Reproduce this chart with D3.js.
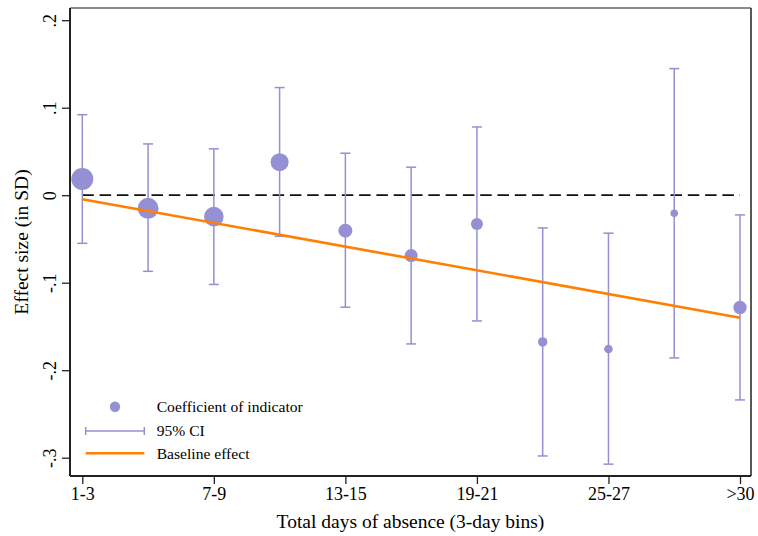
<!DOCTYPE html>
<html>
<head>
<meta charset="utf-8">
<script src="https://cdn.jsdelivr.net/npm/d3@7"></script>
<style>
  body { margin: 0; background: #fff; }
  text { font-family: "Liberation Serif", "Times New Roman", serif; fill: #000; }
</style>
</head>
<body>
<div id="chart"></div>
<script>
// absence bins (3 days each)
const bins = ['1-3', '4-6', '7-9', '10-12', '13-15', '16-18', '19-21', '22-24', '25-27', '28-30', '>30'];
const shownBins = ['1-3', '7-9', '13-15', '19-21', '25-27', '>30'];
const coef = [0.0186, -0.015, -0.0245, 0.0377, -0.0405, -0.069, -0.0328, -0.1677, -0.1757, -0.0206, -0.1284];
const ciLow = [-0.055, -0.087, -0.102, -0.047, -0.128, -0.170, -0.1437, -0.298, -0.3074, -0.186, -0.234];
const ciHigh = [0.092, 0.0586, 0.053, 0.123, 0.048, 0.032, 0.078, -0.0374, -0.0434, 0.1447, -0.0225];
// relative weight of each bin (marker area)
const binWeight = [121, 110, 96, 81, 49, 42, 36, 22, 18.5, 14.4, 45];
// baseline effect, first and last bin
const baseline = [-0.0046, -0.140];
const yTicks = [0.2, 0.1, 0, -0.1, -0.2, -0.3];
const yTickLabels = ['.2', '.1', '0', '-.1', '-.2', '-.3'];

const W = 758, H = 536;
const mLeft = 70, mRight = 751, mTop = 8, mBottom = 476;
const purple = '#9590d3', orange = '#ff7f00';

const svg = d3.select('#chart').append('svg')
  .attr('width', W)
  .attr('height', H);

const x = d3.scalePoint().domain(bins).range([82.3, 740]);
const y = d3.scaleLinear().domain([-0.3, 0.2]).range([457.7, 20.2]);
const r = d3.scaleSqrt().domain([0, 121]).range([0, 11]);

// frame
svg.append('line').attr('x1', mLeft).attr('x2', mRight).attr('y1', mTop).attr('y2', mTop)
  .attr('stroke', '#666').attr('stroke-width', 1.5);
svg.append('line').attr('x1', mRight).attr('x2', mRight).attr('y1', mTop).attr('y2', mBottom)
  .attr('stroke', '#222').attr('stroke-width', 1.5);

// y axis
const yAxis = svg.append('g').attr('transform', `translate(${mLeft},0)`)
  .call(d3.axisLeft(y).tickValues(yTicks).tickSize(8).tickFormat((d, i) => yTickLabels[i]));
yAxis.select('.domain').attr('d', `M0,${mTop}V${mBottom}`).attr('stroke', '#222').attr('stroke-width', 2);
yAxis.selectAll('.tick line').attr('stroke', '#222').attr('stroke-width', 1.3);
yAxis.selectAll('.tick text')
  .attr('x', null).attr('dy', null)
  .attr('transform', 'translate(-14,0) rotate(-90)')
  .attr('text-anchor', 'middle')
  .style('font-family', '"Liberation Serif", serif')
  .style('font-size', '18px');

// x axis
const xAxis = svg.append('g').attr('transform', `translate(0,${mBottom})`)
  .call(d3.axisBottom(x).tickValues(shownBins).tickSize(8));
xAxis.select('.domain').attr('d', `M${mLeft},0H${mRight}`).attr('stroke', '#222').attr('stroke-width', 2);
xAxis.selectAll('.tick line').attr('stroke', '#222').attr('stroke-width', 1.3);
xAxis.selectAll('.tick text')
  .attr('y', 24).attr('dy', null)
  .style('font-family', '"Liberation Serif", serif')
  .style('font-size', '18px');

// axis titles
svg.append('text')
  .attr('x', (mLeft + mRight) / 2)
  .attr('y', 528)
  .attr('text-anchor', 'middle')
  .style('font-size', '19.5px')
  .text('Total days of absence (3-day bins)');
svg.append('text')
  .attr('transform', `translate(28,${(mTop + mBottom) / 2}) rotate(-90)`)
  .attr('text-anchor', 'middle')
  .style('font-size', '19.5px')
  .text('Effect size (in SD)');

// zero reference line
svg.append('line')
  .attr('x1', x(bins[0])).attr('x2', x(bins[bins.length - 1]))
  .attr('y1', y(0)).attr('y2', y(0))
  .attr('stroke', '#111').attr('stroke-width', 1.7)
  .attr('stroke-dasharray', '11.5,5.8');

// confidence intervals
const data = bins.map((b, i) => ({bin: b, coef: coef[i], lo: ciLow[i], hi: ciHigh[i], w: binWeight[i]}));
const ci = svg.append('g').attr('stroke', purple).attr('stroke-width', 1.5);
ci.selectAll('.stem').data(data).enter().append('line')
  .attr('x1', d => x(d.bin)).attr('x2', d => x(d.bin))
  .attr('y1', d => y(d.lo)).attr('y2', d => y(d.hi));
ci.selectAll('.capHi').data(data).enter().append('line')
  .attr('x1', d => x(d.bin) - 5).attr('x2', d => x(d.bin) + 5)
  .attr('y1', d => y(d.hi)).attr('y2', d => y(d.hi));
ci.selectAll('.capLo').data(data).enter().append('line')
  .attr('x1', d => x(d.bin) - 5).attr('x2', d => x(d.bin) + 5)
  .attr('y1', d => y(d.lo)).attr('y2', d => y(d.lo));

// coefficients
svg.selectAll('circle.pt').data(data).enter().append('circle')
  .attr('class', 'pt')
  .attr('cx', d => x(d.bin))
  .attr('cy', d => y(d.coef))
  .attr('r', d => r(d.w))
  .attr('fill', purple);

// baseline effect
svg.append('line')
  .attr('x1', x(bins[0])).attr('x2', x(bins[bins.length - 1]))
  .attr('y1', y(baseline[0])).attr('y2', y(baseline[1]))
  .attr('stroke', orange).attr('stroke-width', 2.6);

// legend
const lg = svg.append('g');
lg.append('circle').attr('cx', 115).attr('cy', 406.7).attr('r', 5.2).attr('fill', purple);
lg.append('line').attr('x1', 85.7).attr('x2', 144.3).attr('y1', 431).attr('y2', 431)
  .attr('stroke', purple).attr('stroke-width', 1.5);
[85.7, 144.3].forEach(px => {
  lg.append('line').attr('x1', px).attr('x2', px).attr('y1', 427).attr('y2', 435)
    .attr('stroke', purple).attr('stroke-width', 1.5);
});
lg.append('line').attr('x1', 85.7).attr('x2', 144.3).attr('y1', 453.3).attr('y2', 453.3)
  .attr('stroke', orange).attr('stroke-width', 2.6);
const legendText = ['Coefficient of indicator', '95% CI', 'Baseline effect'];
const legendY = [412, 436, 458.5];
lg.selectAll('text').data(legendText).enter().append('text')
  .attr('x', 156.7)
  .attr('y', (d, i) => legendY[i])
  .style('font-size', '15.6px')
  .text(d => d);
</script>
</body>
</html>
